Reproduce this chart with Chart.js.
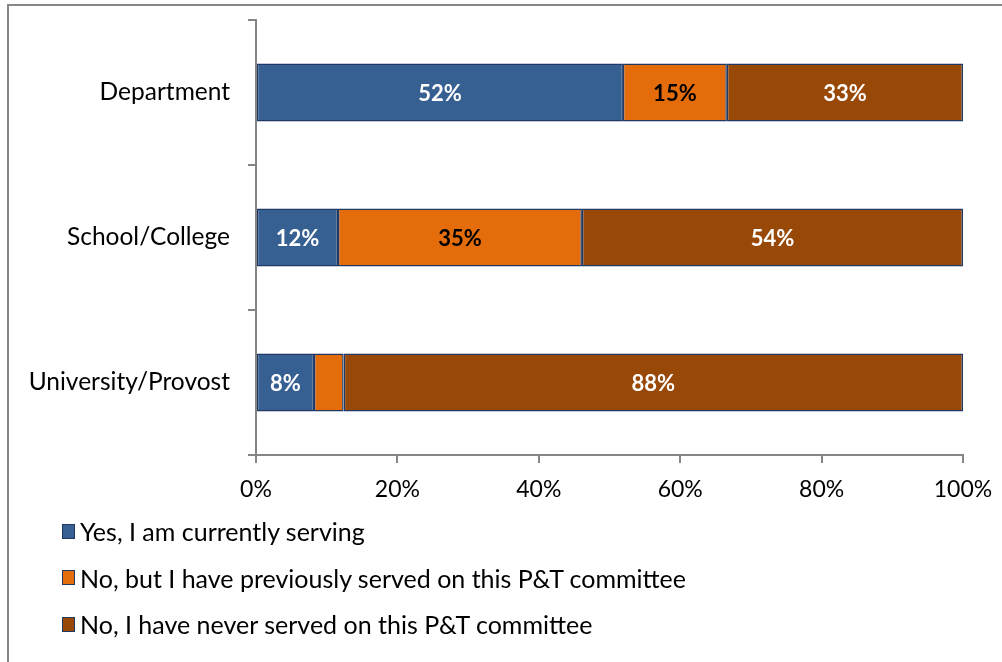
<!DOCTYPE html>
<html lang="en">
<head>
  <meta charset="UTF-8" />
  <title>P&amp;T Committee Service</title>
  <script src="https://cdn.jsdelivr.net/npm/chart.js"></script>
  <style>
    html, body { margin: 0; padding: 0; background: #fff; }
    body { font-family: 'Lato', sans-serif; width: 1002px; height: 662px; position: relative; overflow: hidden; }
    #frame {
      position: absolute; left: 7px; top: 4px; right: -10px; bottom: -10px;
      border-top: 2px solid #878787; border-left: 2px solid #878787;
    }
    #wrap { position: absolute; left: 0; top: 0; width: 1002px; height: 662px; }
    #legend { position: absolute; left: 62px; top: 508px; }
    .item { display: flex; align-items: center; height: 46.5px; font-size: 25px; color: #000; }
    .box { width: 11px; height: 13px; border: 1.5px solid #1f3864; margin-right: 5px; }
  </style>
</head>
<body>
  <div id="frame"></div>
  <div id="wrap"><canvas id="chart"></canvas></div>
  <div id="legend"></div>

  <script>
    // survey categories, top to bottom
    const categories = ['Department', 'School/College', 'University/Provost'];

    const seriesNames = [
      'Yes, I am currently serving',
      'No, but I have previously served on this P&T committee',
      'No, I have never served on this P&T committee'
    ];

    // share of respondents (%) per category
    const currentlyServing = [51.9, 11.6, 8.2];
    const previouslyServed = [14.7, 34.5, 4.2];
    const neverServed = [33.4, 53.9, 87.6];

    const xTicks = [0, 20, 40, 60, 80, 100];

    const fills = ['#376092', '#E46C0A', '#984807'];
    const labelColors = ['#ffffff', '#000000', '#ffffff'];
    const edge = '#1f3864';
    const axisGray = '#868686';
    const font = 'Lato, sans-serif';

    const values = [currentlyServing, previouslyServed, neverServed];

    // percentage labels centred in each segment
    const segmentLabels = {
      id: 'segmentLabels',
      afterDatasetsDraw(chart) {
        const ctx = chart.ctx;
        ctx.save();
        ctx.font = 'bold 22px ' + font;
        ctx.textAlign = 'center';
        ctx.textBaseline = 'middle';
        chart.data.datasets.forEach((ds, i) => {
          chart.getDatasetMeta(i).data.forEach((bar, j) => {
            const v = ds.data[j];
            if (v < 5) return;
            const p = bar.getProps(['x', 'y', 'base'], true);
            ctx.fillStyle = labelColors[i];
            ctx.fillText(Math.round(v) + '%', (p.x + p.base) / 2, p.y + 1);
          });
        });
        ctx.restore();
      }
    };

    new Chart(document.getElementById('chart'), {
      type: 'bar',
      data: {
        labels: categories,
        datasets: values.map((d, i) => ({
          label: seriesNames[i],
          data: d,
          backgroundColor: fills[i],
          borderColor: edge,
          borderWidth: 1.5,
          borderSkipped: false,
          categoryPercentage: 0.4,
          barPercentage: 1
        }))
      },
      options: {
        indexAxis: 'y',
        responsive: true,
        maintainAspectRatio: false,
        animation: false,
        layout: { padding: { left: 0, right: 39, top: 20, bottom: 0 } },
        scales: {
          x: {
            stacked: true,
            min: 0,
            max: 100,
            afterBuildTicks(scale) { scale.ticks = xTicks.map(v => ({ value: v })); },
            afterFit(scale) {
              scale.height = 207;
              scale.paddingLeft = 0;
              scale.paddingRight = 0;
            },
            ticks: {
              callback: v => v + '%',
              color: '#000',
              padding: 13,
              font: { family: font, size: 23 }
            },
            grid: { drawOnChartArea: false, tickLength: 8, color: axisGray, lineWidth: 2 },
            border: { color: axisGray, width: 2 }
          },
          y: {
            stacked: true,
            afterFit(scale) {
              scale.width = 256;
              scale.paddingTop = 0;
              scale.paddingBottom = 0;
            },
            ticks: {
              color: '#000',
              padding: 18,
              font: { family: font, size: 24.5 }
            },
            grid: { drawOnChartArea: false, tickLength: 8, color: axisGray, lineWidth: 2, offset: true },
            border: { color: axisGray, width: 2 }
          }
        },
        plugins: {
          legend: { display: false },
          tooltip: { enabled: false }
        }
      },
      plugins: [segmentLabels]
    });

    // vertical legend under the plot
    const legendEl = document.getElementById('legend');
    seriesNames.forEach((name, i) => {
      const row = document.createElement('div');
      row.className = 'item';
      const box = document.createElement('span');
      box.className = 'box';
      box.style.background = fills[i];
      const txt = document.createElement('span');
      txt.textContent = name;
      row.appendChild(box);
      row.appendChild(txt);
      legendEl.appendChild(row);
    });
  </script>
</body>
</html>
